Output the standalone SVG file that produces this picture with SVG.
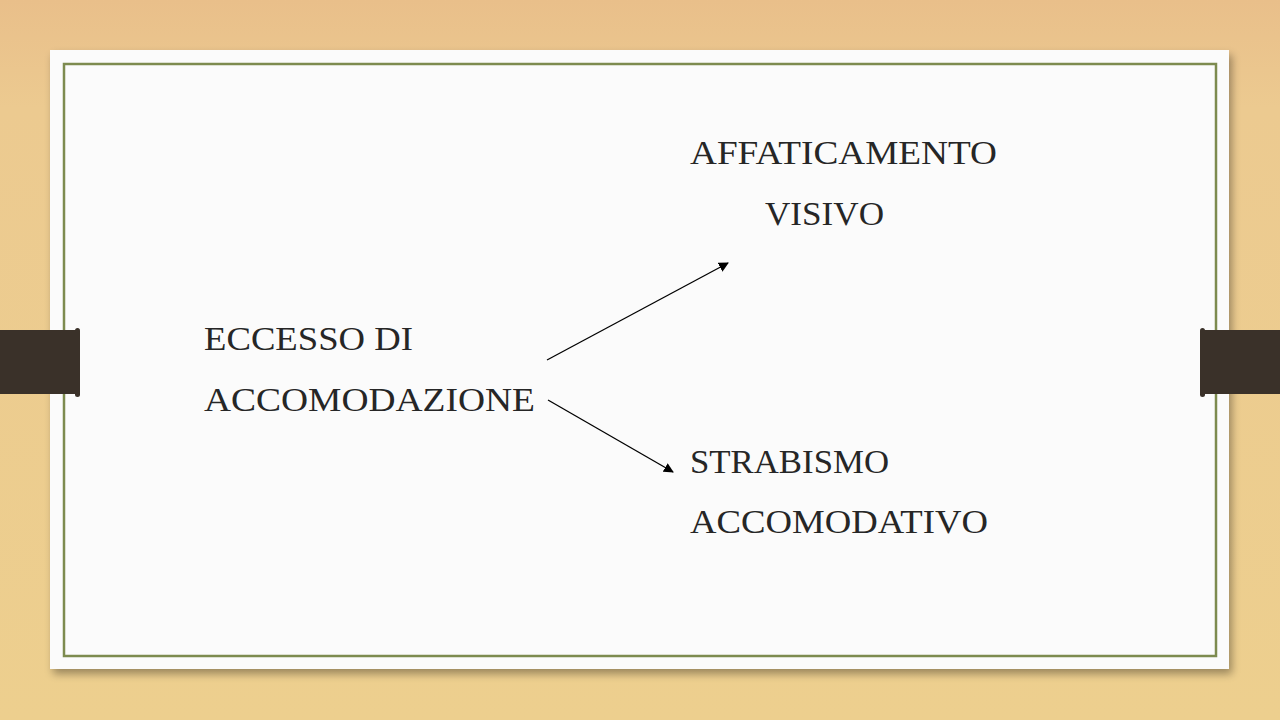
<svg xmlns="http://www.w3.org/2000/svg" width="1280" height="720" viewBox="0 0 1280 720">
<defs>
<linearGradient id="wood" x1="0" y1="0" x2="0" y2="1">
<stop offset="0" stop-color="#e9bf8a"/>
<stop offset="0.15" stop-color="#ecca90"/>
<stop offset="1" stop-color="#edcf8e"/>
</linearGradient>
<filter id="shadow" x="-5%" y="-5%" width="110%" height="115%">
<feGaussianBlur in="SourceAlpha" stdDeviation="4"/>
<feOffset dx="3" dy="5"/>
<feComponentTransfer><feFuncA type="linear" slope="0.35"/></feComponentTransfer>
<feMerge><feMergeNode/><feMergeNode in="SourceGraphic"/></feMerge>
</filter>
<marker id="arrow" viewBox="0 0 10 10" refX="9" refY="5" markerWidth="10" markerHeight="10" markerUnits="userSpaceOnUse" orient="auto">
<path d="M0,0 L10,5 L0,10 z" fill="#000"/>
</marker>
</defs>
<style>
.lbl{font-family:"Liberation Serif","Times New Roman",serif;font-size:34px;fill:#262626;}
.edge{stroke:#000;stroke-width:1.3;fill:none;marker-end:url(#arrow);}
.tab{fill:#3a3129;}
</style>
<rect width="1280" height="720" fill="url(#wood)"/>
<rect x="50" y="50" width="1179" height="619" fill="#fbfbfb" filter="url(#shadow)"/>
<rect x="64" y="64" width="1152" height="592" fill="none" stroke="#7d8b4f" stroke-width="2.5"/>
<g id="tab-left">
<rect class="tab" x="0" y="330" width="79" height="64"/>
<rect class="tab" x="75" y="328" width="5" height="69" rx="2.5"/>
</g>
<g id="tab-right">
<rect class="tab" x="1201" y="330" width="79" height="64"/>
<rect class="tab" x="1200" y="328" width="5" height="69" rx="2.5"/>
</g>
<g id="node-eccesso">
<text class="lbl" x="204" y="350" textLength="209" lengthAdjust="spacingAndGlyphs">ECCESSO DI</text>
<text class="lbl" x="204" y="411" textLength="331" lengthAdjust="spacingAndGlyphs">ACCOMODAZIONE</text>
</g>
<g id="node-affaticamento">
<text class="lbl" x="690" y="164" textLength="307" lengthAdjust="spacingAndGlyphs">AFFATICAMENTO</text>
<text class="lbl" x="765" y="225" textLength="119" lengthAdjust="spacingAndGlyphs">VISIVO</text>
</g>
<g id="node-strabismo">
<text class="lbl" x="690" y="473" textLength="199" lengthAdjust="spacingAndGlyphs">STRABISMO</text>
<text class="lbl" x="690" y="533" textLength="298" lengthAdjust="spacingAndGlyphs">ACCOMODATIVO</text>
</g>
<g id="connectors">
<line class="edge" x1="547" y1="360" x2="728" y2="263"/>
<line class="edge" x1="548" y1="400" x2="673" y2="472"/>
</g>
</svg>
